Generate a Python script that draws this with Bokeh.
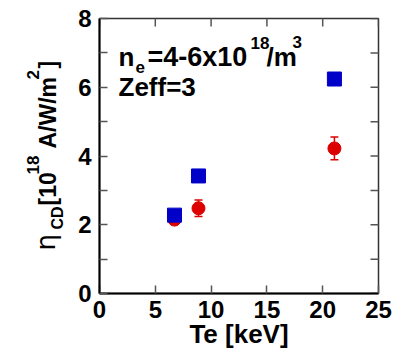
import math
from bokeh.plotting import figure
from bokeh.layouts import row
from bokeh.models import (ColumnDataSource, Whisker, TeeHead, Label, LinearAxis,
                          FixedTicker, Range1d)
from bokeh.embed import file_html
from bokeh.resources import INLINE

# ---- data ----
te_kev = [6.72, 8.87, 21.05]
eta_calc = [2.28, 3.42, 6.24]
eta_meas = [2.15, 2.48, 4.22]
eta_err = [0.10, 0.24, 0.33]

x_ticks = [0, 5, 10, 15, 20, 25]
y_ticks = [0, 2, 4, 6, 8]
y_minor = [1, 3, 5, 7]

FONT = "Liberation Sans"
RED = "#dd0000"
BLUE = "#0000c8"
TICK = "#555555"

LEFT_W = 74

p = figure(width=396 - LEFT_W, height=351, output_backend="svg", toolbar_location=None,
           x_range=Range1d(x_ticks[0], x_ticks[-1]), y_range=Range1d(y_ticks[0], y_ticks[-1]),
           min_border_left=99 - LEFT_W, min_border_right=18, min_border_top=18,
           min_border_bottom=57, x_axis_location=None, y_axis_location=None)
p.grid.visible = False
p.outline_line_color = "#333333"
p.outline_line_width = 1.5
p.background_fill_color = "white"
p.border_fill_color = "white"


def style_axis(ax):
    ax.axis_line_color = "black"
    ax.axis_line_width = 2
    ax.major_tick_in = 8
    ax.major_tick_out = 0
    ax.minor_tick_in = 8
    ax.minor_tick_out = 0
    ax.major_tick_line_color = TICK
    ax.major_tick_line_width = 1.5
    ax.minor_tick_line_color = TICK
    ax.minor_tick_line_width = 1.5
    ax.major_label_text_font = FONT
    ax.major_label_text_font_style = "bold"
    ax.major_label_text_font_size = "24px"
    ax.major_label_text_color = "black"


xb = LinearAxis(ticker=FixedTicker(ticks=x_ticks, minor_ticks=[]))
style_axis(xb)
xb.major_label_standoff = 7
xb.axis_label = "Te [keV]"
xb.axis_label_text_font = FONT
xb.axis_label_text_font_style = "bold"
xb.axis_label_text_font_size = "26px"
xb.axis_label_text_color = "black"
xb.axis_label_standoff = -2
yl = LinearAxis(ticker=FixedTicker(ticks=y_ticks, minor_ticks=y_minor))
style_axis(yl)
yl.major_label_standoff = 8
p.add_layout(xb, "below")
p.add_layout(yl, "left")

# inward ticks on the top and right frame edges (half of each dash is clipped by the frame)
p.scatter(x=x_ticks, y=[y_ticks[-1]] * len(x_ticks), marker="dash", angle=math.pi / 2,
          size=16, line_color=TICK, line_width=1.5)
all_y = sorted(y_ticks + y_minor)
p.scatter(x=[x_ticks[-1]] * len(all_y), y=all_y, marker="dash",
          size=16, line_color=TICK, line_width=1.5)

lower = [v - e for v, e in zip(eta_meas, eta_err)]
upper = [v + e for v, e in zip(eta_meas, eta_err)]
src_m = ColumnDataSource(dict(x=te_kev, y=eta_meas, lower=lower, upper=upper))
src_c = ColumnDataSource(dict(x=te_kev, y=eta_calc))

w = Whisker(source=src_m, base="x", lower="lower", upper="upper",
            dimension="height", line_color=RED, line_width=1.5,
            upper_head=TeeHead(size=8, line_color=RED, line_width=1.5),
            lower_head=TeeHead(size=8, line_color=RED, line_width=1.5))
p.add_layout(w)
p.scatter("x", "y", source=src_m, marker="circle", size=13,
          fill_color=RED, line_color=RED)
p.scatter("x", "y", source=src_c, marker="square", size=14,
          fill_color=BLUE, line_color=BLUE)


def lab(fig, text, x, y, size, angle=0.0, bold=True, font=FONT, align="left"):
    fig.add_layout(Label(x=x, y=y, x_units="screen", y_units="screen", text=text,
                         angle=angle, text_font=font, text_font_size=f"{size}px",
                         text_font_style="bold" if bold else "normal",
                         text_color="black", text_align=align,
                         text_baseline="alphabetic"))


# in-plot annotation
lab(p, "n", 19, 237, 26)
lab(p, "e", 36, 227, 17)
lab(p, "=4-6x10", 48, 237, 27)
lab(p, "18", 151, 251, 17)
lab(p, "/m", 167, 237, 26)
lab(p, "3", 193, 252, 17)
lab(p, "Zeff=3", 19, 207, 26)

# y axis title, in its own narrow panel at the left (frame aligned with the main frame)
q = figure(width=LEFT_W, height=351, output_backend="svg", toolbar_location=None,
           x_range=Range1d(0, 1), y_range=Range1d(0, 1),
           min_border_left=0, min_border_right=0, min_border_top=18, min_border_bottom=57,
           x_axis_location=None, y_axis_location=None)
q.grid.visible = False
q.outline_line_color = None
q.background_fill_color = "white"
q.border_fill_color = "white"

a = math.pi / 2
lab(q, "\u03b7", 45, 43, 26, angle=a, bold=False, font="DejaVu Sans")
lab(q, "CD", 57, 64, 16, angle=a)
lab(q, "[10", 47, 88, 23, angle=a)
lab(q, "18", 32, 119, 17, angle=a)
lab(q, "A/W/m", 47, 145, 23, angle=a)
lab(q, "2", 32, 214, 17, angle=a)
lab(q, "]", 47, 225, 23, angle=a)

layout = row(q, p)
open("out.html", "w").write(file_html(layout, INLINE))
